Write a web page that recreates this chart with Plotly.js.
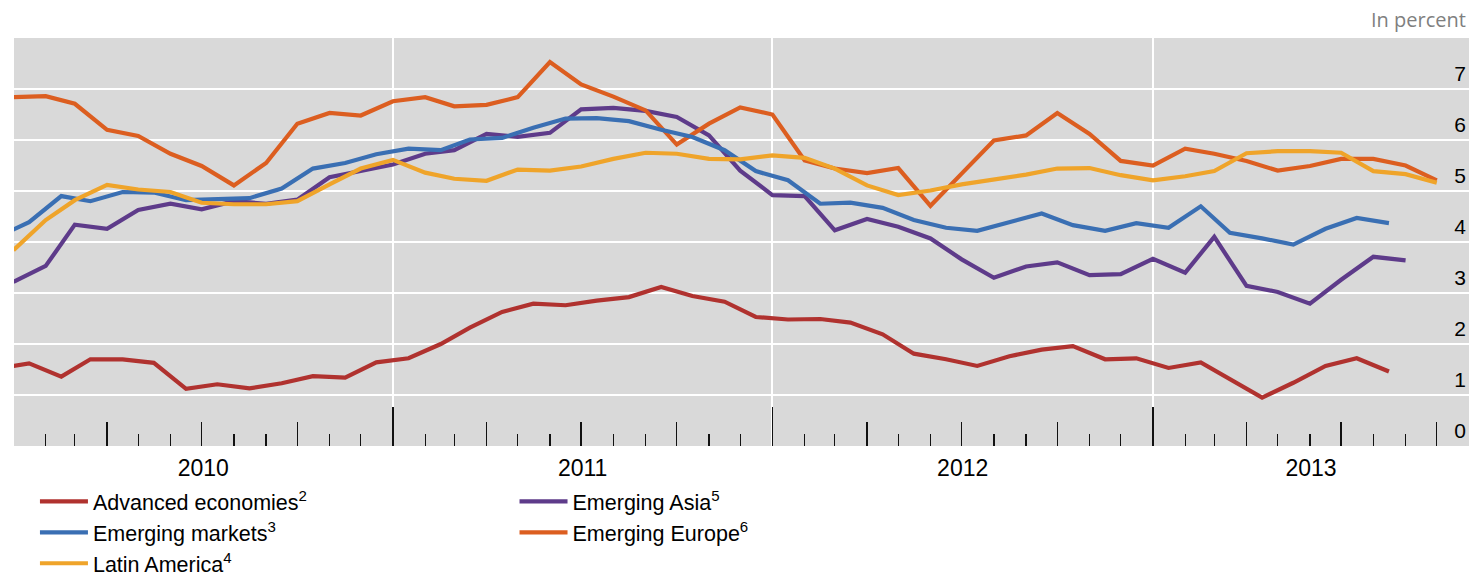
<!DOCTYPE html>
<html>
<head>
<meta charset="utf-8">
<script src="https://cdn.plot.ly/plotly-3.0.1.min.js"></script>
<style>html,body{margin:0;padding:0;background:#ffffff;}#chart{width:1483px;height:577px;}</style>
</head>
<body>
<div id="chart"></div>
<script>
// ---- Data (percent), monthly ----
// Advanced economies and Emerging markets: mid-month observations, Dec 2009 .. Aug 2013
const advancedEconomies = [1.52,
  1.62, 1.36, 1.70, 1.70, 1.63, 1.12, 1.21, 1.13, 1.23, 1.37, 1.34, 1.64,
  1.72, 2.00, 2.32, 2.63, 2.79, 2.76, 2.85, 2.92, 3.12, 2.94, 2.83, 2.53,
  2.48, 2.49, 2.42, 2.19, 1.81, 1.70, 1.57, 1.76, 1.89, 1.96, 1.70, 1.72,
  1.53, 1.64, 1.31, 0.95, 1.24, 1.57, 1.72, 1.46];
const emergingMarkets = [4.09,
  4.39, 4.90, 4.80, 4.98, 4.97, 4.82, 4.84, 4.86, 5.05, 5.44, 5.55, 5.72,
  5.83, 5.80, 6.01, 6.04, 6.24, 6.42, 6.43, 6.37, 6.20, 6.06, 5.80, 5.39,
  5.21, 4.75, 4.77, 4.67, 4.43, 4.28, 4.22, 4.39, 4.56, 4.33, 4.22, 4.37,
  4.28, 4.70, 4.18, 4.07, 3.95, 4.26, 4.47, 4.37];
// Emerging Asia: month-start observations, Jan 2010 .. Sep 2013
const emergingAsia = [
  3.22, 3.53, 4.34, 4.26, 4.63, 4.75, 4.64, 4.80, 4.75, 4.83, 5.27, 5.39,
  5.52, 5.73, 5.80, 6.12, 6.06, 6.14, 6.60, 6.63, 6.57, 6.45, 6.09, 5.40,
  4.92, 4.90, 4.23, 4.45, 4.30, 4.07, 3.66, 3.30, 3.52, 3.60, 3.35, 3.37,
  3.67, 3.40, 4.10, 3.14, 3.02, 2.79, 3.26, 3.71, 3.64];
// Emerging Europe and Latin America: month-start observations, Jan 2010 .. Oct 2013
const emergingEurope = [
  6.84, 6.86, 6.71, 6.20, 6.08, 5.73, 5.49, 5.11, 5.55, 6.32, 6.53, 6.48,
  6.76, 6.84, 6.66, 6.69, 6.84, 7.53, 7.09, 6.85, 6.58, 5.91, 6.32, 6.64,
  6.50, 5.60, 5.44, 5.35, 5.45, 4.71, 5.34, 5.99, 6.09, 6.53, 6.12, 5.59,
  5.50, 5.83, 5.73, 5.59, 5.40, 5.49, 5.63, 5.63, 5.50, 5.21];
const latinAmerica = [
  3.84, 4.43, 4.82, 5.12, 5.03, 4.98, 4.77, 4.74, 4.74, 4.80, 5.13, 5.44,
  5.61, 5.36, 5.24, 5.20, 5.42, 5.40, 5.48, 5.63, 5.75, 5.73, 5.63, 5.62,
  5.70, 5.65, 5.44, 5.11, 4.92, 5.01, 5.13, 5.23, 5.32, 5.44, 5.45, 5.31,
  5.21, 5.29, 5.39, 5.74, 5.78, 5.78, 5.75, 5.39, 5.33, 5.16];

const seriesNames = {
  adv: 'Advanced economies<sup>2</sup>',
  em: 'Emerging markets<sup>3</sup>',
  la: 'Latin America<sup>4</sup>',
  asia: 'Emerging Asia<sup>5</sup>',
  eur: 'Emerging Europe<sup>6</sup>'
};
const yearLabels = ['2010', '2011', '2012', '2013'];
const yTickLabels = ['0', '1', '2', '3', '4', '5', '6', '7'];
const unitLabel = 'In percent';

// month date strings
function monthDates(year, month, count, day) {
  const out = [];
  for (let i = 0; i < count; i++) {
    const m = month - 1 + i;
    const y = year + Math.floor(m / 12);
    const mm = (m % 12) + 1;
    out.push(y + '-' + String(mm).padStart(2, '0') + '-' + day);
  }
  return out;
}
const midDates = monthDates(2009, 12, advancedEconomies.length, '16');
const asiaDates = monthDates(2010, 1, emergingAsia.length, '01');
const startDates = monthDates(2010, 1, emergingEurope.length, '01');

const xRange = ['2010-01-01 12:00', '2013-11-01'];

// year label positions: centre of the visible part of each year
function iso(ms) { return new Date(ms).toISOString().replace('T', ' ').slice(0, 19); }
const r0 = Date.parse('2010-01-01T00:00:00Z'), r1 = Date.parse('2013-11-01T00:00:00Z');
const yearMids = yearLabels.map(y => {
  const a = Math.max(Date.parse(y + '-01-01T00:00:00Z'), r0);
  const b = Math.min(Date.parse((+y + 1) + '-01-01T00:00:00Z'), r1);
  return iso((a + b) / 2);
});

const colors = {
  adv: '#B0322F', em: '#3A6FB3', la: '#EFA42A', asia: '#5E3B8A', eur: '#DC5E20'
};
const font = 'Liberation Sans, Arial, sans-serif';
const LW = 4.2;

const traces = [
  {x: asiaDates, y: emergingAsia, name: seriesNames.asia, legend: 'legend2',
   line: {color: colors.asia, width: LW}},
  {x: startDates, y: emergingEurope, name: seriesNames.eur, legend: 'legend2',
   line: {color: colors.eur, width: LW}},
  {x: midDates, y: advancedEconomies, name: seriesNames.adv, legend: 'legend',
   line: {color: colors.adv, width: LW}},
  {x: midDates, y: emergingMarkets, name: seriesNames.em, legend: 'legend',
   line: {color: colors.em, width: LW}},
  {x: startDates, y: latinAmerica, name: seriesNames.la, legend: 'legend',
   line: {color: colors.la, width: LW}},
  // empty helper traces so the overlay axes (year ticks, year labels, y labels) are drawn
  {x: [], y: [], xaxis: 'x2', yaxis: 'y', showlegend: false},
  {x: [], y: [], xaxis: 'x3', yaxis: 'y', showlegend: false},
  {x: [], y: [], xaxis: 'x', yaxis: 'y2', showlegend: false}
].map(t => Object.assign({type: 'scatter', mode: 'lines', hoverinfo: 'skip'}, t));

const layout = {
  width: 1483, height: 577,
  margin: {l: 14, r: 14, t: 38, b: 131, autoexpand: false},
  paper_bgcolor: '#ffffff',
  plot_bgcolor: '#D9D9D9',
  font: {family: font, color: '#000000', size: 21},
  showlegend: true,
  xaxis: {
    type: 'date', range: xRange, fixedrange: true,
    tick0: '2010-01-01', dtick: 'M3',
    ticks: 'inside', ticklen: 24, tickwidth: 1.3, tickcolor: '#111111',
    showticklabels: false, showgrid: false, zeroline: false, showline: false,
    minor: {tick0: '2010-01-01', dtick: 'M1', ticks: 'inside', ticklen: 12,
            tickwidth: 1.3, tickcolor: '#111111', showgrid: false}
  },
  xaxis2: {
    type: 'date', range: xRange, overlaying: 'x', anchor: 'y', side: 'bottom',
    fixedrange: true, tick0: '2010-01-01', dtick: 'M12',
    ticks: 'inside', ticklen: 39, tickwidth: 1.3, tickcolor: '#111111',
    showticklabels: false,
    showgrid: true, gridcolor: '#ffffff', gridwidth: 2,
    zeroline: false, showline: false
  },
  xaxis3: {
    type: 'date', range: xRange, overlaying: 'x', anchor: 'y', side: 'bottom',
    fixedrange: true, tickvals: yearMids, ticktext: yearLabels,
    ticks: '', showgrid: false, zeroline: false, showline: false,
    tickfont: {family: font, size: 23, color: '#000000'},
    ticklabelstandoff: 6
  },
  yaxis: {
    range: [0, 8], fixedrange: true,
    tickvals: [1, 2, 3, 4, 5, 6, 7],
    showticklabels: false, ticks: '',
    showgrid: true, gridcolor: '#ffffff', gridwidth: 2,
    zeroline: false, showline: false
  },
  yaxis2: {
    overlaying: 'y', anchor: 'x', side: 'right',
    range: [-0.294, 7.706], fixedrange: true,
    tickvals: [0, 1, 2, 3, 4, 5, 6, 7], ticktext: yTickLabels,
    ticklabelposition: 'inside', ticks: '',
    showgrid: false, zeroline: false, showline: false,
    tickfont: {family: font, size: 21, color: '#000000'}
  },
  legend: {
    x: 0.0144, xanchor: 'left', y: -0.0855, yanchor: 'top',
    orientation: 'v', bgcolor: 'rgba(0,0,0,0)', borderwidth: 0,
    font: {family: font, size: 21.5, color: '#000000'},
    itemwidth: 48, tracegroupgap: 0, maxheight: 1
  },
  legend2: {
    x: 0.344, xanchor: 'left', y: -0.0855, yanchor: 'top',
    orientation: 'v', bgcolor: 'rgba(0,0,0,0)', borderwidth: 0,
    font: {family: font, size: 21.5, color: '#000000'},
    itemwidth: 48, tracegroupgap: 0, maxheight: 1
  },
  annotations: [{
    text: unitLabel, xref: 'paper', yref: 'paper', x: 1, y: 1,
    xanchor: 'right', yanchor: 'bottom', xshift: -1, yshift: 3, showarrow: false,
    font: {family: 'Open Sans, Noto Sans, sans-serif', size: 20, color: '#7F7F7F'}
  }]
};

Plotly.newPlot('chart', traces, layout, {displayModeBar: false, staticPlot: true});
</script>
</body>
</html>
